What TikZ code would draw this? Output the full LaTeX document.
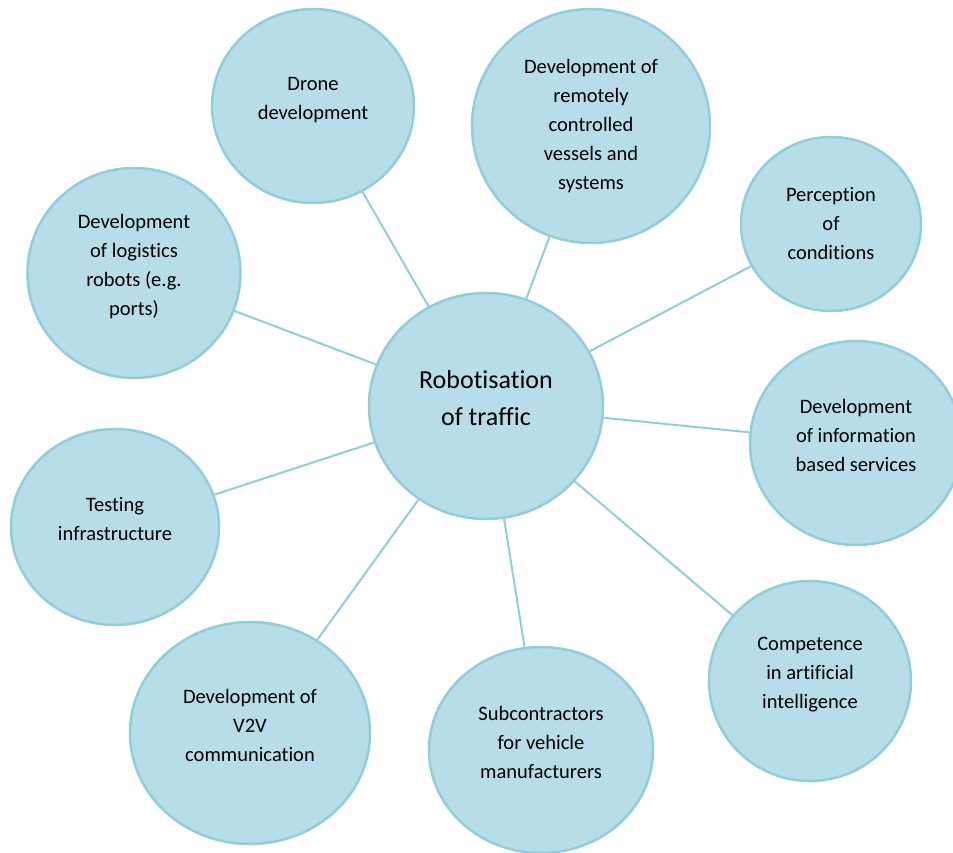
\documentclass[tikz,border=0pt]{standalone}
\usepackage{fontspec}
\setmainfont{Carlito}[Ligatures=NoCommon]
\usetikzlibrary{shapes.geometric}
\definecolor{bubblefill}{HTML}{B7DDE8}
\definecolor{bubbleline}{HTML}{92CDDC}
\newcommand{\liftpad}{\rule[-16pt]{0pt}{0pt}}
\tikzset{
    bubble/.style={ellipse, draw=bubbleline, line width=2.5pt, fill=bubblefill,
        align=center, inner sep=0pt, font=\fontsize{20.5}{29}\selectfont},
    link/.style={draw=bubbleline, line width=2pt}
}
\begin{document}
\begin{tikzpicture}[x=1pt,y=-1pt]
    \useasboundingbox (0,0) rectangle (953,852);
    \clip (0,0) rectangle (953,852);
    \node[bubble, minimum width=234pt, minimum height=226pt,
        font=\fontsize{26}{37}\selectfont] (hub) at (486,406) {Robotisation\\of traffic\liftpad};
    \node[bubble, minimum width=202pt, minimum height=194pt] (drone) at (313,106) {Drone\\development\liftpad};
    \node[bubble, minimum width=238pt, minimum height=234pt] (vessels) at (591,126)
        {Development of\\remotely\\controlled\\vessels and\\systems};
    \node[bubble, minimum width=180pt, minimum height=174pt] (percep) at (831,224) {Perception\\of\\conditions};
    \node[bubble, minimum width=212pt, minimum height=204pt] (info) at (856,443)
        {Development\\of information\\based services\liftpad};
    \node[bubble, minimum width=202pt, minimum height=200pt] (ai) at (810,681)
        {Competence\\in artificial\\intelligence\liftpad};
    \node[bubble, minimum width=224pt, minimum height=206pt] (subc) at (541,750)
        {Subcontractors\\for vehicle\\manufacturers\liftpad};
    \node[bubble, minimum width=240pt, minimum height=222pt] (v2v) at (250,733)
        {Development of\\V2V\\communication\liftpad};
    \node[bubble, minimum width=208pt, minimum height=196pt] (testing) at (115,527) {Testing\\infrastructure\liftpad};
    \node[bubble, minimum width=213pt, minimum height=210pt] (logistics) at (134,273)
        {Development\\of logistics\\robots (e.g.\\ports)\liftpad};
    \foreach \n in {drone,vessels,percep,info,ai,subc,v2v,testing,logistics}
    \draw[link] (hub) -- (\n);
\end{tikzpicture}
\end{document}
